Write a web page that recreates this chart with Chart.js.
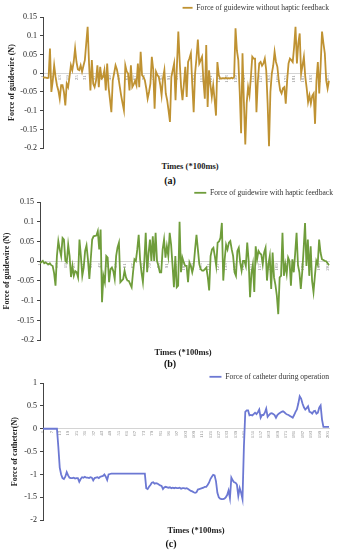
<!DOCTYPE html>
<html><head><meta charset="utf-8">
<script src="https://cdn.jsdelivr.net/npm/chart.js@4.4.1/dist/chart.umd.min.js"></script>
<style>
html,body{margin:0;padding:0;background:#fff;}
#wrap{position:relative;width:337px;height:550px;overflow:hidden;font-family:'Liberation Serif','Times New Roman',serif;}
canvas{position:absolute;left:0;}
.xt{position:absolute;font-weight:bold;font-size:8.5px;color:#222;white-space:nowrap;transform:translate(-50%,-50%);}
.pl{position:absolute;font-weight:bold;font-size:10px;color:#111;white-space:nowrap;transform:translate(-50%,-50%);}
</style></head><body>
<div id="wrap">
<canvas id="ca" width="337" height="154" style="top:2px"></canvas>
<canvas id="cb" width="337" height="161" style="top:187px"></canvas>
<canvas id="cc" width="337" height="157" style="top:371px"></canvas>
<div class="xt" style="left:190px;top:166px">Times (*100ms)</div>
<div class="pl" style="left:170px;top:180px">(a)</div>
<div class="xt" style="left:183px;top:352px">Times (*100ms)</div>
<div class="pl" style="left:170px;top:363px">(b)</div>
<div class="xt" style="left:196px;top:530px">Times (*100ms)</div>
<div class="pl" style="left:171px;top:543px">(c)</div>
</div>
<script>
// x categories (sample number, *100ms)
const categories = Array.from({length: 206}, (_, i) => String(i + 1));

const seriesNames = [
  'Force of guidewire without haptic feedback',
  'Force of guidewire with haptic feedback',
  'Force of catheter during operation'
];
const yTitles = ['Force of guidewire (N)', 'Force of guidewire (N)', 'Force of catheter(N)'];

// (a) guidewire force without haptic feedback (N)
const forceNoHaptic = [
 -0.012,-0.011,-0.012,-0.013,-0.012,0.066,-0.05,-0.02,0.021,-0.01,
 -0.032,-0.046,-0.068,-0.032,-0.032,-0.05,-0.086,-0.028,-0.037,-0.01,
 0.021,0.008,0.03,0.066,0.03,0.01,0.008,0.021,0.004,0.02,
 0.035,0.08,0.124,0.026,-0.046,0.035,-0.028,-0.037,-0.02,0.021,
 -0.037,0.017,-0.014,-0.01,0.008,-0.046,0.026,-0.037,-0.07,-0.104,
 -0.019,0.0,0.021,0.01,-0.01,-0.035,-0.059,-0.08,-0.099,0.021,
 0.005,-0.001,-0.046,0.021,-0.037,-0.03,-0.02,-0.032,0.026,-0.037,
 0.057,-0.005,-0.01,-0.019,-0.04,-0.068,-0.05,-0.028,0.044,0.01,
 -0.095,0.004,-0.005,-0.01,-0.03,-0.059,-0.014,0.008,-0.054,-0.072,
 -0.1,-0.13,-0.01,0.008,0.026,-0.072,0.02,0.111,0.03,-0.037,
 -0.072,-0.028,0.017,-0.063,0.03,0.04,0.053,-0.03,-0.104,-0.001,
 0.04,0.09,0.026,0.035,0.044,-0.02,-0.068,0.075,-0.09,0.008,
 -0.03,-0.063,-0.032,-0.07,-0.113,0.03,-0.005,-0.014,-0.014,-0.013,
 -0.014,-0.012,-0.014,-0.013,-0.014,-0.012,-0.014,-0.01,0.12,0.06,
 0.035,-0.05,-0.16,0.053,-0.077,-0.19,-0.08,-0.037,-0.059,-0.01,
 0.044,0.039,0.039,-0.104,-0.02,0.026,0.03,0.02,0.026,0.039,
 0.008,-0.08,-0.195,-0.05,-0.001,0.02,0.057,0.03,0.017,-0.02,
 -0.046,-0.054,-0.04,-0.037,-0.081,-0.02,0.026,0.039,0.035,0.03,
 0.07,0.124,0.026,0.08,0.106,-0.001,0.02,0.044,-0.01,-0.04,
 -0.077,-0.059,-0.081,-0.06,-0.054,-0.135,-0.02,0.03,-0.054,0.02,
 0.111,0.08,0.053,-0.019,-0.041,-0.02
];

// (b) guidewire force with haptic feedback (N)
const forceHaptic = [
 -0.005,-0.002,0.001,-0.005,-0.003,-0.006,-0.008,-0.005,-0.01,-0.012,
 -0.03,-0.062,0.013,0.051,0.03,0.013,0.059,0.055,0.001,-0.003,
 0.042,0.013,-0.04,-0.012,-0.037,-0.025,-0.028,-0.041,0.055,0.013,
 -0.037,-0.016,0.026,0.04,0.005,-0.045,0.005,0.055,0.063,0.064,
 0.065,0.076,0.03,0.08,-0.104,-0.037,-0.053,0.013,0.009,-0.053,
 -0.02,-0.016,-0.025,-0.045,0.013,0.035,0.047,-0.053,-0.049,-0.045,
 -0.024,-0.041,-0.049,-0.05,-0.058,-0.066,-0.028,0.005,0.001,0.03,
 0.067,0.005,-0.028,-0.053,0.0,0.072,-0.028,0.02,0.055,0.001,
 0.063,0.001,0.072,0.001,-0.012,-0.028,-0.028,0.03,0.055,0.009,
 0.038,0.013,0.072,0.042,-0.01,-0.066,0.013,-0.066,-0.062,0.1,
 -0.028,0.009,-0.003,-0.012,-0.012,-0.053,-0.003,-0.012,-0.028,-0.012,
 0.03,0.067,0.03,-0.0075,-0.02,-0.024,-0.024,-0.02,-0.016,-0.04,
 -0.074,0.013,0.03,0.034,0.013,-0.012,0.047,0.05,0.059,0.097,
 -0.049,0.005,0.042,0.03,0.047,0.051,0.03,0.013,-0.028,-0.037,
 0.026,0.034,-0.003,-0.024,0.001,0.001,-0.012,0.047,0.001,-0.091,
 -0.03,-0.008,-0.078,0.038,0.005,0.026,0.02,0.017,-0.008,0.022,
 0.034,-0.049,-0.008,0.013,-0.07,0.022,-0.041,-0.06,-0.087,-0.134,
 -0.041,-0.037,0.072,-0.037,-0.008,-0.032,0.009,0.0,-0.062,0.005,
 -0.028,0.02,0.072,-0.01,-0.028,-0.07,-0.028,0.03,0.097,-0.012,
 0.055,-0.037,0.038,-0.05,-0.078,-0.037,0.001,-0.008,0.055,0.022,
 0.005,0.003,0.001,0.0,-0.005,-0.01
];

// (c) catheter force during operation (N)
const forceCatheter = [
 0,0,0,0,0,0,0,0,0,0,
 0,-0.4,-0.85,-1.0,-1.08,-1.1,-1.05,-0.95,-1.02,-1.07,
 -1.08,-1.08,-1.07,-1.09,-1.08,-1.08,-1.16,-1.1,-1.06,-1.07,
 -1.05,-1.07,-1.07,-1.08,-1.06,-1.07,-1.13,-1.08,-1.07,-1.06,
 -1.08,-1.05,-1.04,-1.03,-1.0,-1.05,-1.12,-1.0,-0.99,-0.98,
 -0.98,-0.98,-0.98,-0.98,-0.98,-0.98,-0.98,-0.98,-0.98,-0.98,
 -0.98,-0.98,-0.98,-0.98,-0.98,-0.98,-0.98,-0.98,-0.98,-0.98,
 -0.98,-0.98,-0.98,-0.98,-1.3,-1.32,-1.27,-1.23,-1.18,-1.17,
 -1.2,-1.19,-1.2,-1.22,-1.24,-1.25,-1.32,-1.28,-1.27,-1.28,
 -1.29,-1.28,-1.3,-1.29,-1.3,-1.29,-1.3,-1.3,-1.29,-1.31,
 -1.3,-1.3,-1.31,-1.3,-1.32,-1.34,-1.36,-1.37,-1.39,-1.4,
 -1.39,-1.33,-1.32,-1.31,-1.3,-1.29,-1.27,-1.27,-1.23,-1.18,
 -1.1,-1.05,-1.01,-1.02,-1.15,-1.4,-1.5,-1.53,-1.54,-1.54,
 -1.53,-1.5,-1.45,-1.35,-1.52,-1.07,-1.13,-1.17,-1.18,-1.22,
 -1.47,-1.3,-1.4,-1.54,-0.4,0.37,0.4,0.4,0.29,0.3,
 0.29,0.32,0.35,0.32,0.36,0.42,0.24,0.3,0.3,0.35,
 0.44,0.26,0.3,0.33,0.34,0.32,0.3,0.24,0.3,0.33,
 0.35,0.37,0.38,0.36,0.33,0.31,0.3,0.28,0.26,0.24,
 0.3,0.37,0.42,0.55,0.71,0.66,0.55,0.47,0.42,0.45,
 0.49,0.37,0.36,0.33,0.38,0.39,0.33,0.35,0.46,0.51,
 0.2,0.04,0.04,0.04,0.04,0.04
];

const yTicksA = {min: -0.2, max: 0.15, step: 0.05};
const yTicksB = {min: -0.2, max: 0.15, step: 0.05};
const yTicksC = {min: -2, max: 1, step: 0.5};

const SERIF = "'Liberation Serif','Times New Roman',serif";

function fmt(v) {
  const r = Math.round(v * 100) / 100;
  return String(r === 0 ? 0 : r);
}

function makeChart(id, data, name, yTitle, yt, color, o) {
  return new Chart(document.getElementById(id), {
    type: 'line',
    data: {
      labels: categories,
      datasets: [{
        label: name, data: data, borderColor: color, backgroundColor: color,
        borderWidth: 1.8, pointRadius: 0, tension: 0, fill: false
      }]
    },
    options: {
      responsive: false, animation: false, devicePixelRatio: 1,
      layout: {padding: {left: 0, right: o.padR, top: 0, bottom: o.padB}},
      plugins: {
        tooltip: {enabled: false},
        legend: {
          display: true, position: 'top', align: 'end', maxHeight: o.legH,
          labels: {
            usePointStyle: true, pointStyle: 'line', pointStyleWidth: o.swatch,
            boxHeight: 7, padding: 2, color: '#333',
            font: {family: SERIF, size: 7.6}
          }
        }
      },
      scales: {
        x: {
          type: 'category', position: {y: 0}, offset: false,
          grid: {display: true, drawOnChartArea: false, drawTicks: false},
          border: {display: true, color: '#d4d4d4', width: 1},
          ticks: {
            autoSkip: false, maxRotation: 90, minRotation: 90, padding: 2,
            color: '#8a8a8a', font: {family: SERIF, size: 5},
            callback: function (v, i) { return i % 6 === 0 ? this.getLabelForValue(v) : ''; }
          }
        },
        y: {
          min: yt.min, max: yt.max,
          afterFit: function (s) { s.width = o.axisX; },
          ticks: {stepSize: yt.step, padding: 3, color: '#222', font: {family: SERIF, size: 8}, callback: fmt},
          grid: {display: true, drawOnChartArea: false, drawTicks: true, tickLength: 3, color: '#444'},
          border: {display: true, color: '#444', width: 1},
          title: {display: true, text: yTitle, color: '#222', padding: {top: o.titlePad, bottom: 0},
                  font: {family: SERIF, size: 8, weight: 'bold'}}
        }
      }
    }
  });
}

makeChart('ca', forceNoHaptic, seriesNames[0], yTitles[0], yTicksA, '#BF9232',
  {padR: 6, padB: 3, legH: 15, swatch: 10, axisX: 43, titlePad: 7});
makeChart('cb', forceHaptic, seriesNames[1], yTitles[1], yTicksB, '#6F9D3B',
  {padR: 2, padB: 3, legH: 15, swatch: 12, axisX: 40, titlePad: 2});
makeChart('cc', forceCatheter, seriesNames[2], yTitles[2], yTicksC, '#6C78D3',
  {padR: 6, padB: 3, legH: 12, swatch: 12, axisX: 43, titlePad: 10});
</script>
</body></html>
